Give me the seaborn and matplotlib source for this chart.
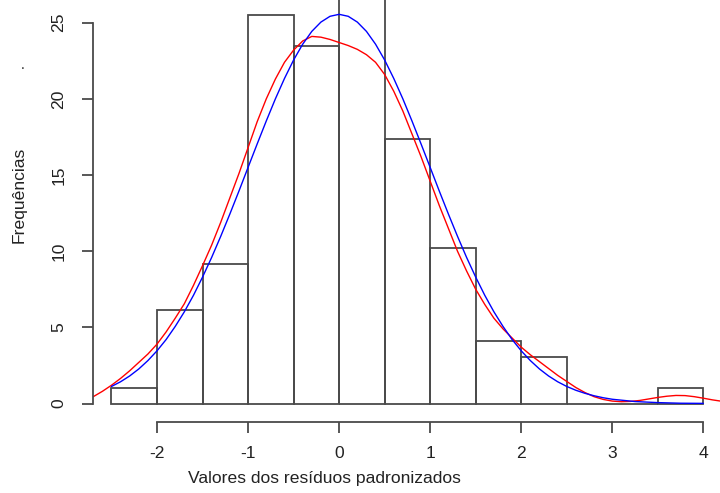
import seaborn as sns; import matplotlib.pyplot as plt
import numpy as np; import pandas as pd

# histogram (bin edges and bar heights)
bin_edges = [-2.5, -2.0, -1.5, -1.0, -0.5, 0.0, 0.5, 1.0, 1.5, 2.0, 2.5, 3.0, 3.5, 4.0]
freqs = [1.02, 6.12, 9.18, 25.51, 23.47, 28.6, 17.35, 10.2, 4.08, 3.06, 0.0, 0.0, 1.02]

# blue curve (normal fit)
normal_x = [-2.5, -2.4, -2.3, -2.2, -2.1, -2.0, -1.9, -1.8, -1.7, -1.6, -1.5, -1.4, -1.3,
            -1.2, -1.1, -1.0, -0.9, -0.8, -0.7, -0.6, -0.5, -0.4, -0.3, -0.2, -0.1, 0.0,
            0.1, 0.2, 0.3, 0.4, 0.5, 0.6, 0.7, 0.8, 0.9, 1.0, 1.1, 1.2, 1.3, 1.4, 1.5,
            1.6, 1.7, 1.8, 1.9, 2.0, 2.1, 2.2, 2.3, 2.4, 2.5, 2.6, 2.7, 2.8, 2.9, 3.0,
            3.25, 3.5, 3.75, 4.0]
normal_y = [1.12, 1.43, 1.81, 2.27, 2.82, 3.46, 4.20, 5.06, 6.02, 7.10, 8.30, 9.59, 10.98,
            12.44, 13.95, 15.50, 17.04, 18.55, 20.00, 21.34, 22.55, 23.59, 24.43, 25.04, 25.42, 25.55,
            25.42, 25.04, 24.43, 23.59, 22.55, 21.34, 20.00, 18.55, 17.04, 15.50, 13.95, 12.44, 10.98, 9.59, 8.30,
            7.10, 6.02, 5.06, 4.20, 3.46, 2.82, 2.27, 1.81, 1.43, 1.12, 0.87, 0.67, 0.51, 0.38, 0.28,
            0.13, 0.06, 0.02, 0.01]

# red curve (kernel density)
kde_x = [-2.7, -2.6, -2.5, -2.4, -2.3, -2.2, -2.1, -2.0, -1.9, -1.8, -1.7, -1.6, -1.5,
         -1.4, -1.3, -1.2, -1.1, -1.0, -0.9, -0.8, -0.7, -0.6, -0.5, -0.4, -0.3, -0.2,
         -0.1, 0.0, 0.1, 0.2, 0.3, 0.4, 0.5, 0.6, 0.7, 0.8, 0.9, 1.0, 1.1, 1.2, 1.3,
         1.4, 1.5, 1.6, 1.7, 1.8, 1.9, 2.0, 2.1, 2.2, 2.3, 2.4, 2.5, 2.6, 2.7, 2.8,
         2.9, 3.0, 3.1, 3.2, 3.3, 3.4, 3.5, 3.6, 3.7, 3.8, 3.9, 4.0, 4.1, 4.2]
kde_y = [0.45, 0.80, 1.20, 1.65, 2.15, 2.70, 3.25, 3.90, 4.70, 5.60, 6.55, 7.75, 9.05,
         10.40, 11.90, 13.50, 15.10, 16.80, 18.50, 20.00, 21.30, 22.40, 23.20, 23.80, 24.10, 24.05,
         23.90, 23.70, 23.50, 23.25, 22.90, 22.40, 21.60, 20.50, 19.20, 17.70, 16.20, 14.60, 13.00, 11.50, 10.00,
         8.70, 7.50, 6.50, 5.60, 4.90, 4.30, 3.70, 3.20, 2.75, 2.30, 1.85, 1.45, 1.05, 0.72, 0.45,
         0.27, 0.16, 0.12, 0.14, 0.20, 0.30, 0.40, 0.48, 0.53, 0.52, 0.45, 0.35, 0.24, 0.15]

y_ticks = [0, 5, 10, 15, 20, 25]
x_ticks = [-2, -1, 0, 1, 2, 3, 4]

sns.set_theme(style='white')
plt.rcParams['font.family'] = ['Liberation Sans', 'DejaVu Sans']
plt.rcParams['font.size'] = 12.6

edges = np.array(bin_edges)
hist_df = pd.DataFrame({'x': (edges[:-1] + edges[1:]) / 2, 'w': freqs})

fig = plt.figure(figsize=(7.2, 4.93), dpi=100)
ax = fig.add_axes([93/720, 71.5/493, 1 - 93/720, 421.5/493])

axis_col = '#4a4a4a'
sns.histplot(data=hist_df, x='x', weights='w', bins=bin_edges, fill=False,
             color=axis_col, linewidth=1.3, ax=ax)
sns.lineplot(x=kde_x, y=kde_y, color='red', linewidth=1.0, errorbar=None, ax=ax)
sns.lineplot(x=normal_x, y=normal_y, color='blue', linewidth=1.0, errorbar=None, ax=ax)

ax.set_xlim(-2.703, 4.183)
ax.set_ylim(-1.18, 26.49)

for s in ['top', 'right']:
    ax.spines[s].set_visible(False)
ax.spines['left'].set_bounds(0, 25)
ax.spines['bottom'].set_bounds(-2, 4)
for s in ['left', 'bottom']:
    ax.spines[s].set_color(axis_col); ax.spines[s].set_linewidth(1.3)

ax.set_xticks(x_ticks); ax.set_yticks(y_ticks)
ax.set_xticklabels([str(t) for t in x_ticks])
ax.set_yticklabels([str(t) for t in y_ticks], rotation=90, va='center')
ax.tick_params(axis='both', direction='out', length=7.8, width=1.3, color=axis_col,
               labelsize=12.6, labelcolor='#222222', left=True, bottom=True)
ax.tick_params(axis='x', pad=10)
ax.tick_params(axis='y', pad=11.5)

ax.set_xlabel('Valores dos resíduos padronizados', fontsize=12.6, color='#222222', va='center')
ax.set_ylabel('Frequências', fontsize=12.6, color='#222222', va='center')
ax.xaxis.set_label_coords((324 - 93) / 627, -(478 - 421.5) / 421.5)
ax.yaxis.set_label_coords((19 - 93) / 627, (421.5 - 195) / 421.5)
ax.grid(False)

fig.text(23/720, 1 - 69/493, '.', fontsize=10, color='#222222', ha='center', va='baseline')

plt.savefig('out.png', dpi=100)
